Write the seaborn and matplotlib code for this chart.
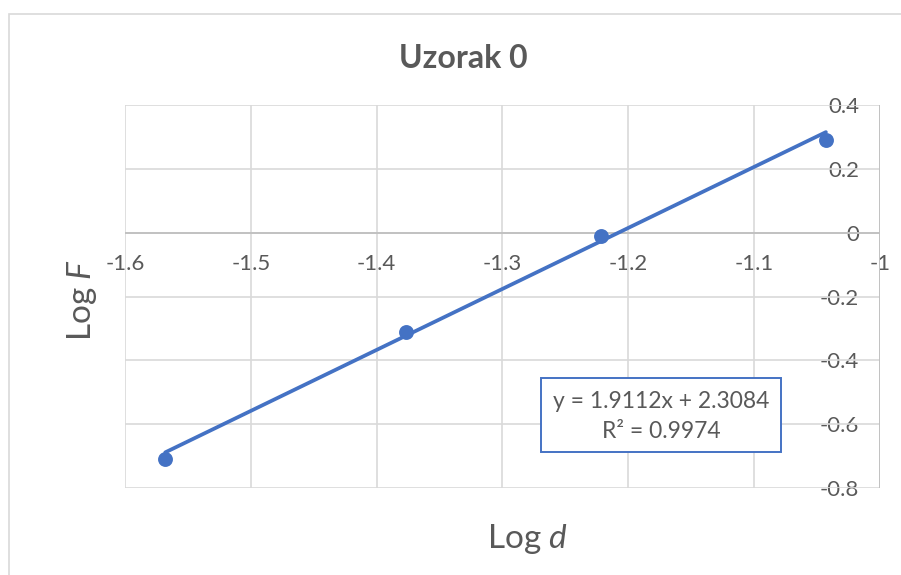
import numpy as np
import pandas as pd
import matplotlib
matplotlib.use("Agg")
import matplotlib.pyplot as plt
import seaborn as sns

# Measured points (log10 of indentation depth d and of force F)
log_d = [-1.568, -1.377, -1.222, -1.043]
log_f = [-0.708, -0.310, -0.009, 0.291]

# Linear trendline reported in the equation box
slope = 1.9112
intercept = 2.3084
r_squared = 0.9974

x_ticks = [-1.6, -1.5, -1.4, -1.3, -1.2, -1.1, -1.0]
x_tick_labels = ["-1.6", "-1.5", "-1.4", "-1.3", "-1.2", "-1.1", "-1"]
y_ticks = [-0.8, -0.6, -0.4, -0.2, 0.0, 0.2, 0.4]
y_tick_labels = ["-0.8", "-0.6", "-0.4", "-0.2", "0", "0.2", "0.4"]

title = "Uzorak 0"

sns.set_theme(style="white")
plt.rcParams["font.family"] = ["Lato", "DejaVu Sans"]
plt.rcParams["mathtext.fontset"] = "custom"
plt.rcParams["mathtext.rm"] = "Lato"
plt.rcParams["mathtext.it"] = "Lato:italic"

BLUE = "#4472C4"
GRID = "#D9D9D9"
TEXT = "#595959"

fig = plt.figure(figsize=(9.01, 5.75), dpi=100)
W, H = 901, 575
ax = fig.add_axes([125 / W, (H - 488) / H, (880 - 125) / W, (488 - 105) / H])

# chart frame
fig.patches.append(plt.Rectangle((9 / W, -0.05), 1.2, (H - 14) / H + 0.05,
                                 transform=fig.transFigure, fill=False,
                                 edgecolor="#D9D9D9", linewidth=1.2))

points = pd.DataFrame({"log_d": log_d, "log_f": log_f})
fit_x = np.array([min(log_d), max(log_d)])
fit = pd.DataFrame({"log_d": fit_x, "log_f": slope * fit_x + intercept})

sns.lineplot(data=fit, x="log_d", y="log_f", ax=ax, color=BLUE,
             linewidth=2.7, zorder=3)
sns.scatterplot(data=points, x="log_d", y="log_f", ax=ax, color=BLUE,
                s=115, edgecolor=BLUE, linewidth=0, zorder=4)

ax.set_xlim(-1.6, -1.0)
ax.set_ylim(-0.8, 0.4)

for v in x_ticks:
    ax.axvline(v, color=GRID, linewidth=1.2, zorder=1)
for v in y_ticks:
    ax.axhline(v, color=GRID, linewidth=1.2, zorder=1)
ax.axvline(-1.0, color="#BFBFBF", linewidth=1.3, zorder=2)
ax.axhline(0.0, color="#BFBFBF", linewidth=1.3, zorder=2)

for s in ax.spines.values():
    s.set_visible(False)

ax.set_xticks(x_ticks)
ax.set_xticklabels(x_tick_labels)
ax.set_yticks(y_ticks)
ax.set_yticklabels(y_tick_labels)
ax.spines["bottom"].set_position(("data", 0))
ax.yaxis.tick_right()
ax.tick_params(axis="x", length=0, pad=15, labelsize=16, labelcolor=TEXT)
ax.tick_params(axis="y", length=0, pad=-15, labelsize=16, labelcolor=TEXT)
for lab in ax.get_yticklabels():
    lab.set_horizontalalignment("right")

ax.set_xlabel("")
ax.set_ylabel("")

fig.text(463 / W, 1 - 58 / H, title, ha="center", va="center",
         fontsize=23, fontweight="bold", color=TEXT)
fig.text(528 / W, 1 - 539 / H, r"Log $\mathit{d}$", ha="center", va="center",
         fontsize=24, color=TEXT)
fig.text(82 / W, 1 - 300 / H, r"Log $\mathit{F}$", ha="center", va="center",
         fontsize=24, color=TEXT, rotation=90)

# trendline equation box
fig.patches.append(plt.Rectangle((541 / W, 1 - 452 / H), 240 / W, 74 / H,
                                 transform=fig.transFigure, facecolor="white",
                                 edgecolor=BLUE, linewidth=1.4, zorder=5))
fig.text(661 / W, 1 - 401 / H, f"y = {slope:.4f}x + {intercept:.4f}",
         ha="center", va="center", fontsize=16.5, color=TEXT, zorder=6)
fig.text(661 / W, 1 - 432 / H, f"R² = {r_squared:.4f}",
         ha="center", va="center", fontsize=16.5, color=TEXT, zorder=6)

fig.savefig("out.png", dpi=100)
